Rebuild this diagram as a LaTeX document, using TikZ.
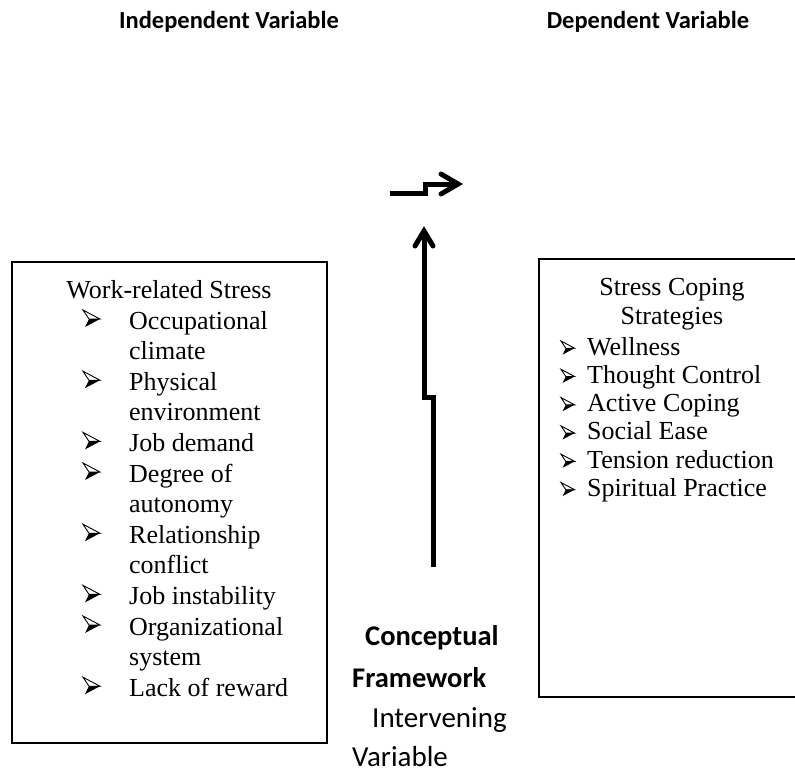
\documentclass[tikz,border=0pt]{standalone}
\usepackage{fontspec}
\setmainfont{Liberation Serif}
\newfontfamily\calib{Carlito}
\usetikzlibrary{arrows.meta}
\tikzset{
  txt/.style={inner sep=0pt, anchor=base west, font=\fontsize{26}{30}\selectfont},
  ctxt/.style={inner sep=0pt, anchor=base, font=\fontsize{26}{30}\selectfont},
  head/.style={inner sep=0pt, anchor=base, font=\calib\bfseries\fontsize{24.5}{28}\selectfont},
  bot/.style={inner sep=0pt, anchor=base west, font=\calib\fontsize{29}{32}\selectfont},
  botb/.style={inner sep=0pt, anchor=base west, font=\calib\bfseries\fontsize{28.5}{32}\selectfont},
  boxline/.style={line width=1.6pt},
  shaft/.style={line width=5pt, line join=miter},
  chev/.style={line width=5pt, line join=miter, line cap=round},
  arrbul/.pic={
    \draw[line width=0.9pt, line join=miter] (0,0) -- (17,9) -- (6,9) -- cycle;
    \fill (6,9) -- (17,9) -- (2,17) -- cycle;
  }
}
\begin{document}
\begin{tikzpicture}[x=1pt,y=-1pt]
\useasboundingbox (0,0) rectangle (795,773);
% headers
\node[head] (hi) at (229,29) {Independent Variable};
\node[head] (hd) at (648,29) {Dependent Variable};
% left box
\draw[boxline] (12,262) rectangle (327,743);
\node[ctxt] (lt) at (169,298) {Work-related Stress};
\foreach \y in {329, 390.2, 451.4, 482, 543.2, 604.4, 635, 696.2}{
  \pic at (83,\y-19) {arrbul};
}
\foreach \i/\y/\t in {1/329/Occupational, 2/359.6/climate, 3/390.2/Physical, 4/420.8/environment, 5/451.4/Job demand, 6/482/Degree of, 7/512.6/autonomy, 8/543.2/Relationship, 9/573.8/conflict, 10/604.4/Job instability, 11/635/Organizational, 12/665.6/system, 13/696.2/Lack of reward}{
  \node[txt] (l\i) at (129,\y) {\t};
}
% right box
\draw[boxline] (797,259) -- (539,259) -- (539,697) -- (797,697);
\node[ctxt] (rt1) at (672,295) {Stress Coping};
\node[ctxt] (rt2) at (672,324) {Strategies};
\foreach \i/\y/\t in {1/355/Wellness, 2/383.3/Thought Control, 3/411.6/Active Coping, 4/439.9/Social Ease, 5/468.2/Tension reduction, 6/496.5/Spiritual Practice}{
  \pic[scale=0.8] at (561,\y-14) {arrbul};
  \node[txt] (r\i) at (587,\y) {\t};
}
% top bent arrow
\coordinate (h0) at (390,193);
\coordinate (h1) at (425,193);
\coordinate (h2) at (425,184);
\coordinate (h3) at (458,184);
\coordinate (hw1) at (441,174);
\coordinate (hw2) at (441,194);
\draw[shaft] (h0) -- (h1) -- (h2) -- (h3);
\draw[chev] (hw1) -- (h3) -- (hw2);
% vertical bent arrow
\coordinate (v0) at (433,567);
\coordinate (v1) at (433,397);
\coordinate (v2) at (424,397);
\coordinate (v3) at (424,231);
\coordinate (vw1) at (415,246);
\coordinate (vw2) at (433,246);
\draw[shaft] (v0) -- (v1) -- (v2) -- (v3);
\draw[chev] (vw1) -- (v3) -- (vw2);
% bottom text
\node[botb] (c1) at (365,645) {Conceptual};
\node[botb] (c2) at (352,687) {Framework};
\node[bot] (c3) at (372,727) {Intervening};
\node[bot] (c4) at (352,766) {Variable};
\end{tikzpicture}
\end{document}
